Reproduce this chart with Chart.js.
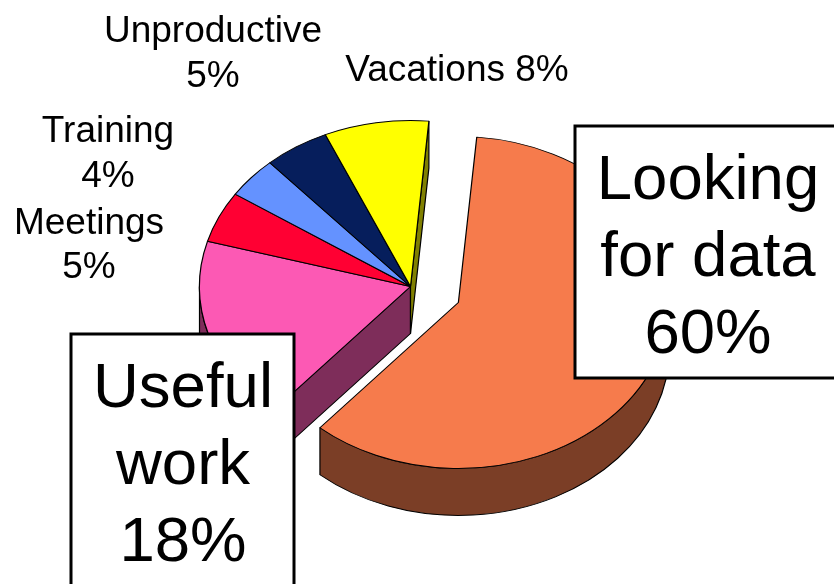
<!DOCTYPE html>
<html>
<head>
<meta charset="utf-8">
<style>
  html, body { margin: 0; padding: 0; background: #fff; }
  canvas { display: block; }
</style>
<script src="https://cdn.jsdelivr.net/npm/chart.js@4"></script>
</head>
<body>
<canvas id="chart" width="834" height="584"></canvas>
<script>
const categories = ["Looking for data", "Useful work", "Meetings", "Training", "Unproductive", "Vacations"];
const shares = [60, 18, 5, 4, 5, 8];

const topColors = ["#F67B4C", "#FC59B4", "#FF0033", "#6492FF", "#061E5C", "#FFFF00"];
const wallColors = ["#7B3E26", "#7E2D5A", "#800019", "#324980", "#030F2E", "#808000"];

// how flat the pie looks, and how thick it is (in unflattened pixels)
const squash = 166 / 211;
const thickness = 47 / squash;
const explode = 52;

function pct(i) { return shares[i] + "%"; }

function drawWalls(ctx, arcs) {
    const n = arcs.length;
    arcs.forEach(function (el, i) {
        const x = el.x, y = el.y, r = el.outerRadius;
        const a0 = el.startAngle, a1 = el.endAngle;
        ctx.fillStyle = wallColors[i];
        ctx.strokeStyle = "#000";
        ctx.lineWidth = 1.2;
        ctx.lineJoin = "round";

        // rim, only the part on the near side
        const t0 = Math.max(a0, 0), t1 = Math.min(a1, Math.PI);
        if (t1 > t0) {
            ctx.beginPath();
            ctx.arc(x, y, r, t0, t1);
            ctx.arc(x, y + thickness, r, t1, t0, true);
            ctx.closePath();
            ctx.fill();
            ctx.stroke();
        }

        // cut faces, where the neighbour has been pulled away
        const prev = arcs[(i - 1 + n) % n], next = arcs[(i + 1) % n];
        if (Math.cos(a0) < 0 && prev.x !== el.x) face(ctx, x, y, r, a0);
        if (Math.cos(a1) > 0 && next.x !== el.x) face(ctx, x, y, r, a1);
    });
}

function face(ctx, x, y, r, a) {
    const ex = x + Math.cos(a) * r, ey = y + Math.sin(a) * r;
    ctx.beginPath();
    ctx.moveTo(x, y);
    ctx.lineTo(ex, ey);
    ctx.lineTo(ex, ey + thickness);
    ctx.lineTo(x, y + thickness);
    ctx.closePath();
    ctx.fill();
    ctx.stroke();
}

function textLines(ctx, lines, cx, baselines) {
    lines.forEach(function (t, i) { ctx.fillText(t, cx, baselines[i]); });
}

function box(ctx, x, y, w, h) {
    ctx.fillStyle = "#fff";
    ctx.strokeStyle = "#000";
    ctx.lineWidth = 3;
    ctx.fillRect(x, y, w, h);
    ctx.strokeRect(x, y, w, h);
}

const pie3d = {
    id: "pie3d",
    afterDatasetsUpdate(chart) {
        // pull the big slice out, keeping its radius
        const el = chart.getDatasetMeta(0).data[0];
        const mid = (el.startAngle + el.endAngle) / 2;
        el.x += Math.cos(mid) * explode;
        el.y += Math.sin(mid) * explode;
    },
    beforeDatasetsDraw(chart) {
        const ctx = chart.ctx;
        const arcs = chart.getDatasetMeta(0).data;
        const cy = arcs[1].y;
        ctx.save();
        ctx.translate(0, cy);
        ctx.scale(1, squash);
        ctx.translate(0, -cy);
        drawWalls(ctx, arcs);
    },
    afterDatasetsDraw(chart) {
        const ctx = chart.ctx;
        ctx.restore();

        ctx.save();
        ctx.fillStyle = "#000";
        ctx.textAlign = "center";
        ctx.textBaseline = "alphabetic";
        ctx.font = '37px "Liberation Sans", Arial, sans-serif';
        textLines(ctx, [categories[4], pct(4)], 213, [42, 87]);
        textLines(ctx, [categories[3], pct(3)], 108, [142, 187]);
        textLines(ctx, [categories[2], pct(2)], 89, [234, 278]);
        textLines(ctx, [categories[5] + " " + pct(5)], 457, [81]);

        box(ctx, 575, 126, 280, 252);
        box(ctx, 71, 334, 223, 270);
        ctx.fillStyle = "#000";
        ctx.font = '63.5px "Liberation Sans", Arial, sans-serif';
        textLines(ctx, ["Looking", "for data", pct(0)], 708, [199, 276, 353]);
        textLines(ctx, ["Useful", "work", pct(1)], 183, [407, 484, 561]);
        ctx.restore();
    }
};

new Chart(document.getElementById("chart").getContext("2d"), {
    type: "pie",
    data: {
        labels: categories,
        datasets: [{
            data: shares,
            backgroundColor: topColors,
            borderColor: "#000",
            borderWidth: 1.2,
            borderJoinStyle: "round",
            clip: false
        }]
    },
    options: {
        responsive: false,
        animation: false,
        rotation: 5,
        radius: 211,
        layout: { padding: { right: 13, bottom: 11 } },
        plugins: {
            legend: { display: false },
            tooltip: { enabled: false }
        }
    },
    plugins: [pie3d]
});
</script>
</body>
</html>
